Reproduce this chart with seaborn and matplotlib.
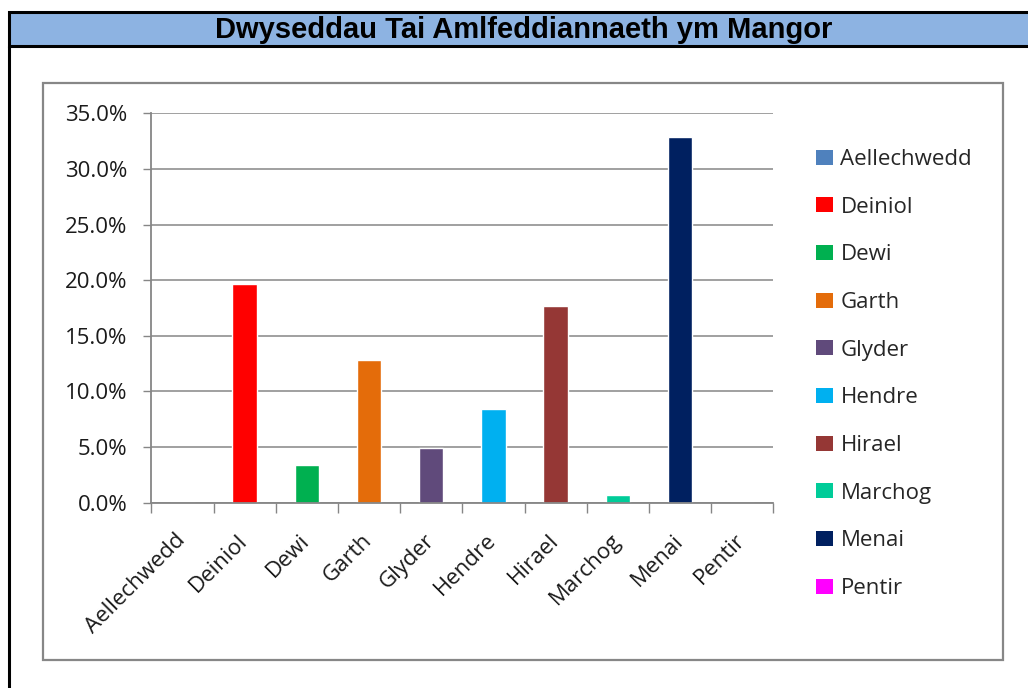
import numpy as np
import pandas as pd
import matplotlib
matplotlib.use("Agg")
import matplotlib.pyplot as plt
from matplotlib.patches import Rectangle, Patch
from matplotlib.lines import Line2D
from matplotlib.ticker import PercentFormatter, FixedLocator
import seaborn as sns

# ward names and share of HMO density (%)
wards = ['Aellechwedd', 'Deiniol', 'Dewi', 'Garth', 'Glyder', 'Hendre',
         'Hirael', 'Marchog', 'Menai', 'Pentir']
density = [0.0, 19.7, 3.4, 12.8, 4.9, 8.4, 17.7, 0.7, 32.9, 0.0]
colours = ['#4F81BD', '#FF0000', '#00B050', '#E46C0A', '#604A7B',
           '#00B0F0', '#953735', '#00CC99', '#002060', '#FF00FF']
title = 'Dwyseddau Tai Amlfeddiannaeth ym Mangor'

df = pd.DataFrame({'ward': wards, 'density': density})

sns.set_style('white')
plt.rcParams['font.family'] = ['Open Sans', 'DejaVu Sans']

W, H = 1028, 688
fig = plt.figure(figsize=(W / 100, H / 100), dpi=100)

def fx(px):
    return px / W

def fy(py):
    return 1 - py / H

# plot area (pixels): left 151, right 773, top 113 (35%), bottom 503 (0%)
ax = fig.add_axes([fx(151.3), fy(502.7), fx(773.3) - fx(151.3), fy(113.3) - fy(502.7)])

sns.barplot(data=df, x='ward', y='density', hue='ward', palette=dict(zip(wards, colours)),
            width=0.39, legend=False, ax=ax, saturation=1)

grey = '#868686'
ax.set_ylim(0, 35)
ax.set_xlim(-0.5, len(wards) - 0.5)
ax.yaxis.set_major_locator(FixedLocator(np.arange(0, 36, 5)))
ax.yaxis.set_major_formatter(PercentFormatter(100, decimals=1))
ax.grid(axis='y', color=grey, lw=1.1)
ax.set_axisbelow(True)
ax.set_xlabel('')
ax.set_ylabel('')
for s in ['top', 'right']:
    ax.spines[s].set_visible(False)
for s in ['left', 'bottom']:
    ax.spines[s].set_color(grey)
    ax.spines[s].set_linewidth(1.3)

ax.tick_params(axis='y', which='major', length=6, width=1, color=grey,
               labelsize=16, labelcolor='#1a1a1a', pad=11, left=True)
ax.xaxis.set_minor_locator(FixedLocator(np.arange(-0.5, len(wards), 1)))
ax.tick_params(axis='x', which='minor', length=7.5, width=1, color=grey, bottom=True)
ax.tick_params(axis='x', which='major', length=0, labelsize=16, labelcolor='#1a1a1a', pad=25)
for lab in ax.get_xticklabels():
    lab.set_rotation(45)
    lab.set_ha('right')
    lab.set_va('center')
    lab.set_rotation_mode('anchor')

handles = [Patch(facecolor=c, edgecolor='none') for c in colours]
fig.legend(handles, wards, loc='center left', bbox_to_anchor=(fx(816), fy(374)),
           frameon=False, borderpad=0, borderaxespad=0, handlelength=0.75,
           handleheight=0.65, handletextpad=0.35, labelspacing=1.2,
           prop={'family': 'Open Sans', 'size': 16})

# grey chart frame
fig.add_artist(Rectangle((fx(43), fy(660)), fx(1003) - fx(43), fy(83) - fy(660),
                         transform=fig.transFigure, fill=False, edgecolor='#878787', lw=1.6))

# title band with black frame
fig.add_artist(Rectangle((fx(9), fy(46)), fx(1040) - fx(9), fy(12) - fy(46),
                         transform=fig.transFigure, facecolor='#8DB3E2',
                         edgecolor='black', lw=2.2, clip_on=False))
fig.add_artist(Line2D([fx(9), fx(9)], [fy(46), fy(700)], transform=fig.transFigure,
                      color='black', lw=2.2))
fig.text(fx(524), fy(30), title, ha='center', va='center', fontsize=21,
         fontweight='bold', family='Liberation Sans', color='black')

fig.savefig('out.png', dpi=100)
